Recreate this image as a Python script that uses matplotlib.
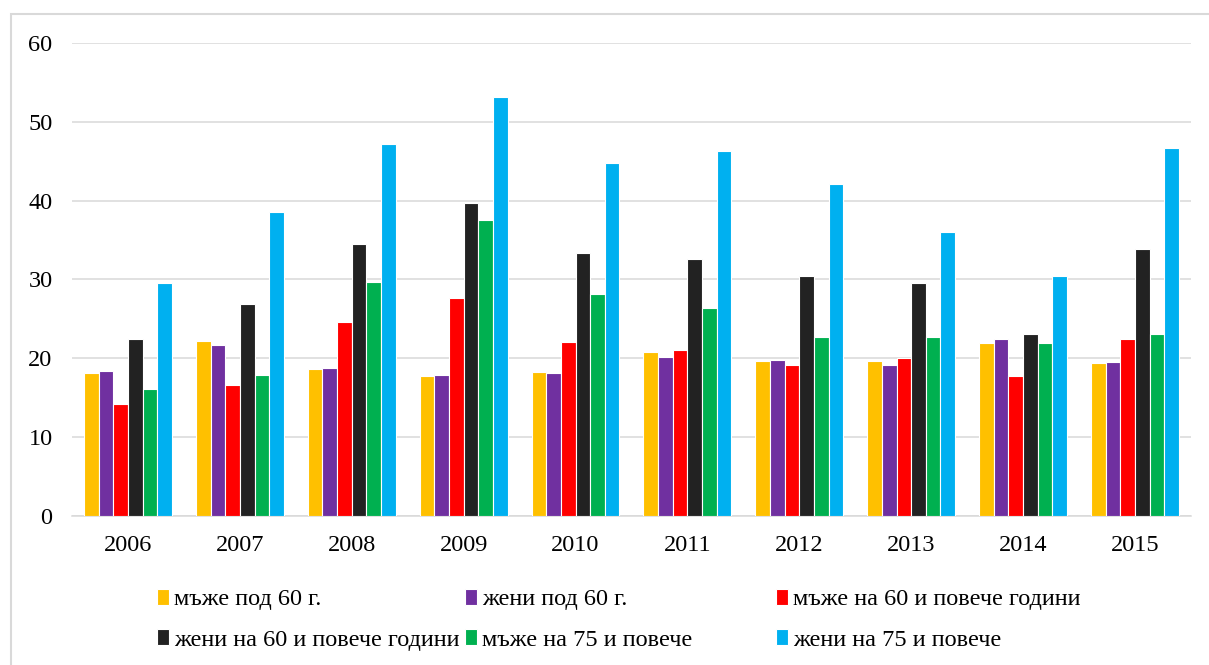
import numpy as np
import matplotlib
matplotlib.use("Agg")
import matplotlib.pyplot as plt
from matplotlib.patches import Rectangle

plt.rcParams['font.family'] = ['Liberation Serif', 'DejaVu Serif']

years = ['2006', '2007', '2008', '2009', '2010', '2011', '2012', '2013', '2014', '2015']
series_names = ['мъже под 60 г.', 'жени под 60 г.', 'мъже на 60 и повече години',
                'жени на 60 и повече години', 'мъже на 75 и повече', 'жени на 75 и повече']

men_under60 = [18.2, 22.2, 18.6, 17.8, 18.3, 20.8, 19.6, 19.7, 21.9, 19.4]
women_under60 = [18.35, 21.7, 18.8, 17.9, 18.1, 20.2, 19.8, 19.2, 22.5, 19.5]
men_60plus = [14.2, 16.6, 24.6, 27.6, 22.1, 21.0, 19.1, 20.1, 17.7, 22.4]
women_60plus = [22.4, 26.85, 34.5, 39.7, 33.4, 32.6, 30.5, 29.6, 23.1, 33.9]
men_75plus = [16.1, 17.9, 29.7, 37.6, 28.1, 26.4, 22.7, 22.7, 22.0, 23.1]
women_75plus = [29.6, 38.5, 47.2, 53.1, 44.8, 46.3, 42.1, 36.0, 30.5, 46.7]

data = [men_under60, women_under60, men_60plus, women_60plus, men_75plus, women_75plus]
colors = ['#FFC000', '#7030A0', '#FF0000', '#222222', '#00B050', '#00B0F0']

fig = plt.figure(figsize=(12.09, 6.65), dpi=100)
ax = fig.add_axes([0.0596, 0.2241, 0.9254, 0.7112])

x = np.arange(len(years))
group_w = 0.786
bar_w = group_w / len(data)
handles = []
for i, (vals, c) in enumerate(zip(data, colors)):
    offs = -group_w / 2 + bar_w * (i + 0.5)
    b = ax.bar(x + offs, vals, width=bar_w, color=c, edgecolor='white',
               linewidth=0.8, zorder=3, label=series_names[i])
    handles.append(b)

ax.set_xlim(-0.5, len(years) - 0.5)
ax.set_ylim(0, 60)
ax.set_yticks(range(0, 61, 10))
ax.set_xticks(x)
ax.set_xticklabels(years)
ax.yaxis.grid(True, color='#d9d9d9', linewidth=1.1, zorder=0)
ax.set_axisbelow(True)
for s in ['top', 'right', 'left']:
    ax.spines[s].set_visible(False)
ax.spines['bottom'].set_color('#d9d9d9')
ax.spines['bottom'].set_linewidth(1.1)
ax.tick_params(axis='both', length=0, labelsize=17.5, colors='black')
ax.tick_params(axis='y', pad=14)
ax.tick_params(axis='x', pad=14)

# legend: three columns, two rows, filled row by row
col_x = [157 / 1209, 465 / 1209, 776 / 1209]
for k, cx in enumerate(col_x):
    fig.legend(handles=[handles[k], handles[k + 3]],
               labels=[series_names[k], series_names[k + 3]],
               loc='upper left', bbox_to_anchor=(cx, 0.1150),
               frameon=False, fontsize=17.5, borderpad=0, borderaxespad=0,
               handlelength=0.5, handleheight=0.65, handletextpad=0.2,
               labelspacing=0.78)

# chart area border
fig.patches.append(Rectangle((11 / 1209, -0.2), 1.3, 1.2 - 14 / 665,
                             transform=fig.transFigure, fill=False,
                             edgecolor='#d9d9d9', linewidth=1.5))

fig.savefig('out.png', dpi=100)
